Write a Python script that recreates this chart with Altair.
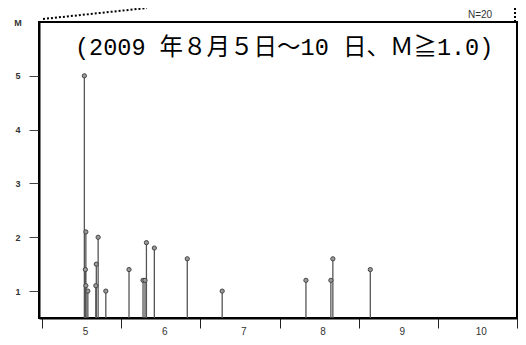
import altair as alt
import pandas as pd

# Event times (day of August 2009, fractional) and magnitudes
days = [5.535, 5.554, 5.548, 5.554, 5.579, 5.680, 5.686, 5.709, 5.806, 6.099,
        6.276, 6.301, 6.319, 6.419, 6.835, 7.276, 8.334, 8.649, 8.674, 9.147]
mags = [5.0, 2.1, 1.4, 1.1, 1.0, 1.1, 1.5, 2.0, 1.0, 1.4,
        1.2, 1.2, 1.9, 1.8, 1.6, 1.0, 1.2, 1.2, 1.6, 1.4]
x_ticks = [5, 6, 7, 8, 9, 10, 11]
y_ticks = [1, 2, 3, 4, 5]
title_text = "(2009 年８月５日～10 日、Ｍ≧1.0)"
count_text = "N=20"
axis_label = "M"

df = pd.DataFrame({"day": days, "mag": mags})

W, H = 478, 296
xs = alt.Scale(domain=[4.962, 11.0], nice=False, zero=False)
ys = alt.Scale(domain=[0.5, 6.0], nice=False, zero=False)

x_axis = alt.Axis(values=x_ticks, title=None, tickSize=10, tickColor="#222",
                  tickWidth=1, labelOffset=43, labelPadding=-2, format="d",
                  labelExpr="datum.value < 11 ? datum.label : ''",
                  labelFontSize=10, labelColor="#333", labelFont="Liberation Sans",
                  domainColor="black", domainWidth=2, grid=False)
y_axis = alt.Axis(values=y_ticks, title=None, tickSize=10, tickColor="#444",
                  tickWidth=1, labelPadding=9, labelFontSize=9,
                  labelFontWeight="bold", labelColor="#333", labelFont="Liberation Sans",
                  domainColor="black", domainWidth=2, grid=False)

base = alt.Chart(df)

stems = base.mark_rule(color="#555", strokeWidth=1.3).encode(
    x=alt.X("day:Q", scale=xs, axis=x_axis),
    y=alt.Y("mag:Q", scale=ys, axis=y_axis),
    y2=alt.datum(0.5),
)
dots = base.mark_point(shape="circle", size=18, filled=True, fill="#999",
                       stroke="#444", strokeWidth=1, opacity=1).encode(
    x=alt.X("day:Q", scale=xs, axis=x_axis),
    y=alt.Y("mag:Q", scale=ys, axis=y_axis),
)

ann = pd.DataFrame({"t": [title_text]})
title = alt.Chart(ann).mark_text(align="left", baseline="alphabetic", fontSize=23.5,
                                 font="Liberation Mono, Noto Sans CJK JP",
                                 color="black").encode(
    text="t:N", x=alt.value(36), y=alt.value(33))

nlab = alt.Chart(pd.DataFrame({"t": [count_text]})).mark_text(
    align="center", baseline="middle", fontSize=10, font="Liberation Sans",
    color="#333").encode(text="t:N", x=alt.value(441), y=alt.value(-7))
mlab = alt.Chart(pd.DataFrame({"t": [axis_label]})).mark_text(
    align="center", baseline="middle", fontSize=9, fontWeight="bold",
    font="Liberation Sans", color="#333").encode(
    text="t:N", x=alt.value(-21), y=alt.value(1))

dot_line1 = alt.Chart(pd.DataFrame({"a": [0]})).mark_rule(
    color="black", strokeWidth=2, strokeDash=[2, 2]).encode(
    x=alt.value(4), y=alt.value(-3), x2=alt.value(108), y2=alt.value(-14))
dot_line2 = alt.Chart(pd.DataFrame({"a": [0]})).mark_rule(
    color="black", strokeWidth=2, strokeDash=[2, 2]).encode(
    x=alt.value(476), y=alt.value(-14), x2=alt.value(476), y2=alt.value(0))

chart = alt.layer(stems, dots, title, nlab, mlab, dot_line1, dot_line2).properties(
    width=W, height=H,
    autosize=alt.AutoSizeParams(type="none"),
    padding={"left": 31, "top": 14, "right": 1, "bottom": 18},
    background="white",
).configure_view(stroke="black", strokeWidth=2)

chart.save("out.html", embed_options={"renderer": "svg", "actions": False})
